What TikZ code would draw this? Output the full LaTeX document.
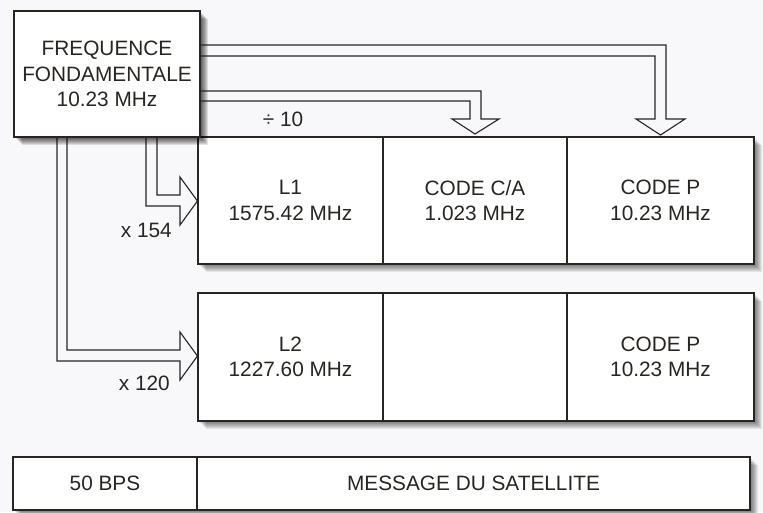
\documentclass[tikz,border=0pt]{standalone}
\usepackage{fontspec}
\setmainfont{Liberation Sans}
\usetikzlibrary{calc}
\definecolor{bg}{RGB}{248,248,250}
\definecolor{ink}{RGB}{40,37,35}
\newcommand\softshadow[3]{%
  \foreach \k in {1,...,8}{\fill[black,opacity=#3] ($#1+(\k,\k)$) rectangle ($#2+(\k,\k)$);}}
\tikzset{
  inkline/.style={draw=ink, line width=1.1pt, line join=miter},
  txt/.style={text=ink, font=\fontsize{20.8}{25.5}\selectfont},
  cell/.style={inkline, txt, fill=white, rectangle, inner sep=0pt, align=center},
  lbl/.style={txt, inner sep=0pt},
  hollow/.style={inkline}
}
\begin{document}
\begin{tikzpicture}[x=1pt,y=-1pt]
\fill[bg] (0,0) rectangle (763,512);
\useasboundingbox (0,0) rectangle (763,512);

% shadows
\softshadow{(198,137)}{(754,264)}{0.08}
\softshadow{(198,293)}{(754,421)}{0.08}
\softshadow{(13,457)}{(750,510)}{0.08}

% row 1
\node[cell, minimum width=185pt, minimum height=127pt] (l1) at (290.5,200.5) {L1\\1575.42 MHz};
\node[cell, minimum width=184pt, minimum height=127pt] (ca) at (475,200.5) {CODE C/A\\1.023 MHz};
\node[cell, minimum width=187pt, minimum height=127pt] (p1) at (660.5,200.5) {CODE P\\10.23 MHz};
% row 2
\node[cell, minimum width=185pt, minimum height=128pt] (l2) at (290.5,357) {L2\\1227.60 MHz};
\node[cell, minimum width=184pt, minimum height=128pt] (empty) at (475,357) {};
\node[cell, minimum width=187pt, minimum height=128pt] (p2) at (660.5,357) {CODE P\\10.23 MHz};
% row 3
\node[cell, minimum width=184pt, minimum height=53pt] (bps) at (105,483.5) {50 BPS};
\node[cell, minimum width=553pt, minimum height=53pt] (msg) at (473.5,483.5) {MESSAGE DU SATELLITE};

% hollow arrows down from the source box
\coordinate (srcS) at (107,137);
\draw[hollow] (srcS -| 146,0) -- (146,206) -- (180,206) -- (180,225) -- (l1.west |- 0,201) -- (180,177) -- (180,195) -- (157,195) -- (srcS -| 157,0);
\draw[hollow] (srcS -| 57,0) -- (57,361) -- (180,361) -- (180,380) -- (l2.west |- 0,356) -- (180,332) -- (180,350) -- (67,350) -- (srcS -| 67,0);

% source box with shadow
\softshadow{(14,11)}{(200,137)}{0.11}
\node[cell, minimum width=186pt, minimum height=126pt] (freq) at (107,74) {FREQUENCE\\FONDAMENTALE\\10.23 MHz};

% hollow arrows to the codes
\draw[hollow] (freq.east |- 0,91) -- (481,91) -- (481,119) -- (499,119) -- (ca.north |- 0,134) -- (452,119) -- (470,119) -- (470,101) -- (freq.east |- 0,101);
\draw[hollow] (freq.east |- 0,45) -- (666,45) -- (666,119) -- (685,119) -- (p1.north |- 0,135) -- (636,119) -- (655,119) -- (655,56) -- (freq.east |- 0,56);

% labels
\node[lbl, anchor=base] (div) at (283,126) {÷ 10};
\node[lbl, anchor=base east] (m154) at (172,237) {x 154};
\node[lbl, anchor=base east] (m120) at (170,390) {x 120};
\end{tikzpicture}
\end{document}
